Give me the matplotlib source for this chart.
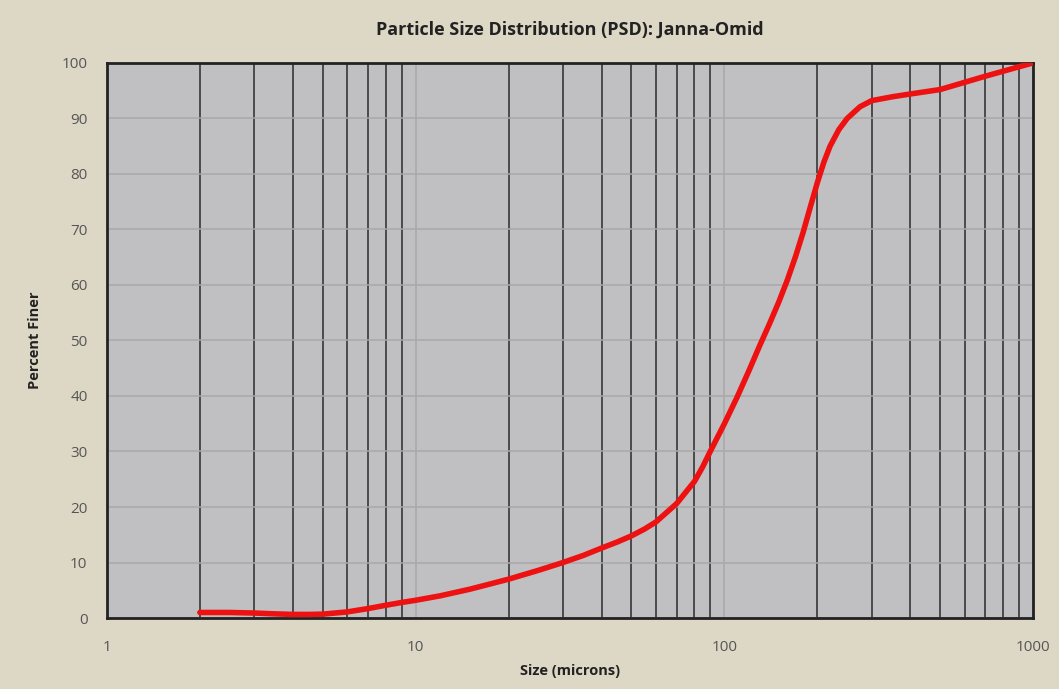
import matplotlib.pyplot as plt
from matplotlib.ticker import FixedLocator, NullFormatter

plt.rcParams['font.family'] = ['Open Sans', 'DejaVu Sans']

size_um = [2, 2.5, 3, 3.5, 4, 4.5, 5, 6, 7, 8, 9, 10, 12, 15, 20, 25, 30, 35, 40, 45, 50, 55, 60, 70, 80, 85, 90,
           100, 110, 120, 130, 140, 150, 160, 170, 180, 190, 200, 210, 220, 235, 250, 275, 300, 350, 400, 500,
           600, 700, 800, 900, 1000]
pct_finer = [1.0, 1.0, 0.9, 0.75, 0.65, 0.65, 0.7, 1.1, 1.7, 2.3, 2.8, 3.2, 4.0, 5.2, 7.0, 8.6, 10.0, 11.3, 12.6, 13.7,
             14.8, 16.0, 17.3, 20.6, 24.6, 27.2, 30.0,
             35.0, 39.8, 44.5, 49.0, 53.0, 56.9, 60.9, 65.1, 69.5, 74.1, 78.4, 82.1, 85.0, 88.0, 90.0, 92.1, 93.2, 93.9,
             94.4, 95.2, 96.5, 97.6, 98.5, 99.3, 100.0]

bg = '#ddd8c5'
fig = plt.figure(figsize=(10.59, 6.89), dpi=100, facecolor=bg)
ax = fig.add_axes([0.101, 0.103, 0.8745, 0.8057])
ax.set_facecolor('#c0c0c2')

ax.set_xscale('log')
ax.set_xlim(1, 1000)
ax.set_ylim(0, 100)

# faint major grid, dark minor verticals
minor = [m * d for d in (1, 10, 100) for m in range(2, 10)]
ax.xaxis.set_minor_locator(FixedLocator(minor))
ax.xaxis.set_minor_formatter(NullFormatter())
ax.set_xticks([1, 10, 100, 1000])
ax.set_xticklabels(['1', '10', '100', '1000'])
ax.set_yticks(range(0, 101, 10))
ax.grid(True, which='major', axis='both', color='#a8a8aa', linewidth=1.1)
ax.grid(True, which='minor', axis='x', color='#4a4a4a', linewidth=1.4)
ax.set_axisbelow(True)

ax.plot(size_um, pct_finer, color='#ee1111', linewidth=4, solid_capstyle='round',
        solid_joinstyle='round', zorder=3)

for s in ax.spines.values():
    s.set_color('#222222')
    s.set_linewidth(2)

ax.tick_params(which='both', length=0, labelsize=11, colors='#555555')
ax.tick_params(axis='x', pad=16)
ax.tick_params(axis='y', pad=14)

ax.set_title('Particle Size Distribution (PSD): Janna-Omid', fontsize=13,
             fontweight='bold', color='#222222', pad=20)
ax.set_xlabel('Size (microns)', fontsize=10.5, fontweight='bold', color='#222222', labelpad=6)
ax.set_ylabel('Percent Finer', fontsize=10.5, fontweight='bold', color='#222222', labelpad=14)

fig.savefig('out.png', dpi=100, facecolor=bg)
